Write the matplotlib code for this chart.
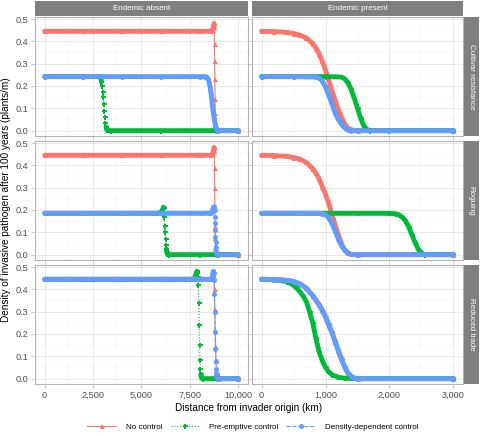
#!/usr/bin/env python3
"""
Invasive pathogen density vs distance, faceted by control strategy and endemic status.
"""
import matplotlib
matplotlib.use("Agg")
import numpy as np
import matplotlib.pyplot as plt
from matplotlib.lines import Line2D
from matplotlib.ticker import FuncFormatter, MultipleLocator

plt.rcParams["font.family"] = ["Liberation Sans", "DejaVu Sans"]

# ---------------- data ----------------
rows = ["Cultivar resistance", "Roguing", "Reduced trade"]
cols = ["Endemic absent", "Endemic present"]
series_names = ["No control", "Pre-emptive control", "Density-dependent control"]

# Cultivar resistance, endemic absent
cr_abs_nc_x = [0, 2000, 4000, 6000, 8000, 8600, 8680, 8720, 8750, 8760, 8770, 8780, 8790, 8800, 8810, 8820, 8830, 8850, 8900, 10000]
cr_abs_nc_y = [0.445, 0.445, 0.445, 0.445, 0.445, 0.445, 0.45, 0.465, 0.48, 0.47, 0.39, 0.31, 0.23, 0.14, 0.08, 0.04, 0.015, 0.003, 0, 0]
cr_abs_pe_x = [0, 2000, 2850, 2900, 2930, 2960, 2990, 3020, 3050, 3080, 3110, 3140, 3170, 3200, 3250, 3400, 6000, 10000]
cr_abs_pe_y = [0.242, 0.242, 0.242, 0.235, 0.22, 0.2, 0.175, 0.15, 0.12, 0.09, 0.06, 0.035, 0.015, 0.005, 0.001, 0, 0, 0]
cr_abs_dd_x = [0, 2000, 4000, 6000, 8000, 8300, 8400, 8450, 8500, 8550, 8600, 8650, 8700, 8750, 8800, 8850, 8900, 8950, 10000]
cr_abs_dd_y = [0.242, 0.242, 0.242, 0.242, 0.242, 0.242, 0.238, 0.23, 0.215, 0.19, 0.16, 0.12, 0.085, 0.055, 0.03, 0.012, 0.004, 0, 0]

# Cultivar resistance, endemic present
cr_pre_nc_x = [0, 200, 400, 500, 600, 700, 800, 850, 900, 950, 1000, 1050, 1100, 1150, 1200, 1250, 1300, 1350, 1400, 1500, 3000]
cr_pre_nc_y = [0.445, 0.444, 0.44, 0.435, 0.428, 0.415, 0.39, 0.37, 0.345, 0.31, 0.27, 0.225, 0.18, 0.135, 0.095, 0.06, 0.03, 0.012, 0.004, 0, 0]
cr_pre_pe_x = [0, 500, 1000, 1250, 1300, 1350, 1400, 1450, 1500, 1550, 1600, 1650, 1700, 2000, 3000]
cr_pre_pe_y = [0.242, 0.242, 0.242, 0.24, 0.232, 0.215, 0.185, 0.145, 0.1, 0.055, 0.02, 0.005, 0, 0, 0]
cr_pre_dd_x = [0, 500, 850, 900, 950, 1000, 1050, 1100, 1150, 1200, 1250, 1300, 1350, 1400, 2000, 3000]
cr_pre_dd_y = [0.242, 0.242, 0.24, 0.235, 0.222, 0.195, 0.16, 0.12, 0.08, 0.05, 0.028, 0.012, 0.004, 0, 0, 0]

# Roguing, endemic absent
ro_abs_nc_x = [0, 2000, 4000, 6000, 8000, 8600, 8680, 8720, 8750, 8760, 8770, 8780, 8790, 8800, 8810, 8820, 8830, 8850, 8900, 10000]
ro_abs_nc_y = [0.445, 0.445, 0.445, 0.445, 0.445, 0.445, 0.45, 0.465, 0.48, 0.47, 0.39, 0.3, 0.21, 0.13, 0.075, 0.035, 0.012, 0.003, 0, 0]
ro_abs_pe_x = [0, 2000, 4000, 5800, 6000, 6050, 6100, 6130, 6160, 6180, 6200, 6220, 6240, 6260, 6280, 6300, 6330, 6400, 8000, 10000]
ro_abs_pe_y = [0.185, 0.185, 0.185, 0.185, 0.188, 0.195, 0.205, 0.212, 0.21, 0.17, 0.13, 0.1, 0.07, 0.045, 0.025, 0.012, 0.004, 0, 0, 0]
ro_abs_dd_x = [0, 2000, 4000, 6000, 8000, 8500, 8600, 8650, 8700, 8730, 8750, 8770, 8790, 8800, 8810, 8820, 8830, 8840, 8860, 8880, 8900, 8950, 10000]
ro_abs_dd_y = [0.185, 0.185, 0.185, 0.185, 0.185, 0.185, 0.187, 0.195, 0.207, 0.214, 0.215, 0.2, 0.17, 0.14, 0.11, 0.08, 0.055, 0.035, 0.015, 0.006, 0.002, 0, 0]

# Roguing, endemic present
ro_pre_nc_x = [0, 200, 400, 500, 600, 700, 800, 850, 900, 950, 1000, 1050, 1100, 1150, 1200, 1250, 1300, 1350, 1400, 1500, 3000]
ro_pre_nc_y = [0.445, 0.444, 0.44, 0.435, 0.428, 0.413, 0.385, 0.365, 0.34, 0.305, 0.27, 0.23, 0.18, 0.135, 0.09, 0.05, 0.02, 0.006, 0.001, 0, 0]
ro_pre_pe_x = [0, 500, 1000, 1500, 2000, 2100, 2150, 2200, 2250, 2300, 2350, 2400, 2450, 2500, 2550, 3000]
ro_pre_pe_y = [0.185, 0.185, 0.185, 0.185, 0.185, 0.183, 0.178, 0.168, 0.152, 0.125, 0.09, 0.055, 0.025, 0.008, 0, 0]
ro_pre_dd_x = [0, 500, 900, 950, 1000, 1050, 1100, 1150, 1200, 1250, 1300, 1350, 1400, 1500, 3000]
ro_pre_dd_y = [0.185, 0.185, 0.185, 0.183, 0.178, 0.165, 0.14, 0.105, 0.07, 0.04, 0.02, 0.008, 0.002, 0, 0]

# Reduced trade, endemic absent
rt_abs_nc_x = [0, 2000, 4000, 6000, 8000, 8600, 8660, 8700, 8730, 8750, 8770, 8790, 8810, 8830, 8850, 8870, 8890, 8920, 8960, 10000]
rt_abs_nc_y = [0.445, 0.445, 0.445, 0.445, 0.445, 0.445, 0.45, 0.47, 0.48, 0.46, 0.4, 0.31, 0.22, 0.14, 0.08, 0.04, 0.015, 0.004, 0, 0]
rt_abs_pe_x = [0, 2000, 4000, 6000, 7700, 7750, 7800, 7850, 7880, 7910, 7940, 7960, 7980, 8000, 8020, 8040, 8060, 8080, 8100, 8150, 8200, 10000]
rt_abs_pe_y = [0.445, 0.445, 0.445, 0.445, 0.445, 0.45, 0.465, 0.48, 0.475, 0.455, 0.42, 0.34, 0.24, 0.15, 0.085, 0.045, 0.02, 0.008, 0.003, 0.001, 0, 0]
rt_abs_dd_x = [0, 2000, 4000, 6000, 8000, 8600, 8650, 8680, 8700, 8720, 8740, 8760, 8780, 8800, 8820, 8840, 8860, 8880, 8900, 8950, 10000]
rt_abs_dd_y = [0.445, 0.445, 0.445, 0.445, 0.445, 0.445, 0.455, 0.47, 0.48, 0.475, 0.44, 0.38, 0.3, 0.21, 0.135, 0.08, 0.045, 0.02, 0.008, 0, 0]

# Reduced trade, endemic present
rt_pre_nc_x = [0, 200, 400, 500, 600, 700, 800, 900, 950, 1000, 1050, 1100, 1150, 1200, 1250, 1300, 1350, 1400, 1450, 1500, 3000]
rt_pre_nc_y = [0.445, 0.444, 0.44, 0.435, 0.425, 0.405, 0.37, 0.33, 0.305, 0.275, 0.24, 0.205, 0.165, 0.125, 0.085, 0.05, 0.025, 0.01, 0.003, 0, 0]
rt_pre_pe_x = [0, 200, 400, 450, 500, 550, 600, 650, 700, 750, 800, 850, 900, 950, 1000, 1050, 1100, 1200, 1300, 1500, 3000]
rt_pre_pe_y = [0.445, 0.443, 0.435, 0.428, 0.418, 0.405, 0.39, 0.37, 0.345, 0.3, 0.25, 0.18, 0.12, 0.08, 0.05, 0.03, 0.018, 0.006, 0.002, 0, 0]
rt_pre_dd_x = [0, 200, 400, 500, 600, 700, 800, 900, 950, 1000, 1050, 1100, 1150, 1200, 1250, 1300, 1350, 1400, 1450, 1500, 3000]
rt_pre_dd_y = [0.445, 0.444, 0.44, 0.435, 0.425, 0.405, 0.372, 0.332, 0.308, 0.278, 0.243, 0.207, 0.167, 0.127, 0.087, 0.052, 0.026, 0.011, 0.003, 0, 0]

panels = {
    (0, 0): [(cr_abs_nc_x, cr_abs_nc_y), (cr_abs_pe_x, cr_abs_pe_y), (cr_abs_dd_x, cr_abs_dd_y)],
    (0, 1): [(cr_pre_nc_x, cr_pre_nc_y), (cr_pre_pe_x, cr_pre_pe_y), (cr_pre_dd_x, cr_pre_dd_y)],
    (1, 0): [(ro_abs_nc_x, ro_abs_nc_y), (ro_abs_pe_x, ro_abs_pe_y), (ro_abs_dd_x, ro_abs_dd_y)],
    (1, 1): [(ro_pre_nc_x, ro_pre_nc_y), (ro_pre_pe_x, ro_pre_pe_y), (ro_pre_dd_x, ro_pre_dd_y)],
    (2, 0): [(rt_abs_nc_x, rt_abs_nc_y), (rt_abs_pe_x, rt_abs_pe_y), (rt_abs_dd_x, rt_abs_dd_y)],
    (2, 1): [(rt_pre_nc_x, rt_pre_nc_y), (rt_pre_pe_x, rt_pre_pe_y), (rt_pre_dd_x, rt_pre_dd_y)],
}

x_ticks = [[0, 2500, 5000, 7500, 10000], [0, 1000, 2000, 3000]]
x_lims = [(-500, 10500), (-150, 3150)]
y_ticks = [0.0, 0.1, 0.2, 0.3, 0.4, 0.5]

# ---------------- styling ----------------
colors = ["#F8766D", "#00BA38", "#619CFF"]
styles = ["-", ":", "--"]
markers = ["^", "P", "o"]
STRIP = "#7f7f7f"
BORDER = "#b3b3b3"

W, H = 480, 436
fig = plt.figure(figsize=(W / 100, H / 100), dpi=100)

def frac(x0, y0, x1, y1):
    # pixel box (top-left origin) -> figure fraction rect
    return [x0 / W, 1 - y1 / H, (x1 - x0) / W, (y1 - y0) / H]

def band_path(ax, xs, ys):
    # break the thick band only where the curve is practically vertical on
    # screen, so those drops show as thin line + separate markers
    pts = ax.transData.transform(np.column_stack([xs, ys]))
    bx, by = [xs[0]], [ys[0]]
    for k in range(1, len(xs)):
        dx = abs(pts[k, 0] - pts[k - 1, 0])
        dy = abs(pts[k, 1] - pts[k - 1, 1])
        if dx < 0.8 and dy > 4:
            bx.append(np.nan); by.append(np.nan)
        bx.append(xs[k]); by.append(ys[k])
    return bx, by

col_px = [(35, 248), (252, 463)]
row_px = [(17, 136), (141, 260), (265, 384)]

thousands = FuncFormatter(lambda v, p: f"{int(v):,}")

for r in range(3):
    for c in range(2):
        x0, x1 = col_px[c]
        y0, y1 = row_px[r]
        ax = fig.add_axes(frac(x0, y0, x1, y1))
        ax.set_facecolor("white")
        for sp in ax.spines.values():
            sp.set_color(BORDER)
            sp.set_linewidth(0.8)
        ax.set_xlim(*x_lims[c])
        ax.set_ylim(-0.024, 0.509)
        ax.set_xticks(x_ticks[c])
        step = x_ticks[c][1] - x_ticks[c][0]
        ax.xaxis.set_minor_locator(MultipleLocator(step / 2))
        ax.set_yticks(y_ticks)
        ax.yaxis.set_minor_locator(MultipleLocator(0.05))
        ax.grid(which="major", color="#dedede", linewidth=0.5)
        ax.grid(which="minor", color="#efefef", linewidth=0.3)
        ax.set_axisbelow(True)
        ax.tick_params(which="major", length=2.7, width=0.5, color=BORDER,
                       labelsize=6.6, labelcolor="#4d4d4d", pad=2)
        ax.tick_params(which="minor", length=0)
        ax.xaxis.set_major_formatter(thousands)
        ax.yaxis.set_major_formatter(FuncFormatter(lambda v, p: f"{v:.1f}"))
        if c == 1:
            ax.tick_params(labelleft=False)
        if r < 2:
            ax.tick_params(labelbottom=False)

        for i, (xs, ys) in enumerate(panels[(r, c)]):
            bx, by = band_path(ax, xs, ys)
            # thick band standing in for the densely packed markers
            ax.plot(bx, by, color=colors[i], lw=3.5, solid_capstyle="round",
                    solid_joinstyle="round", zorder=2 + i)
            ax.plot(xs, ys, color=colors[i], ls=styles[i], lw=0.8,
                    marker=markers[i], ms=3.6, mew=0, zorder=2 + i)

# strips
for c in range(2):
    x0, x1 = col_px[c]
    sa = fig.add_axes(frac(x0, 1, x1, 16.5))
    sa.set_facecolor(STRIP)
    sa.set_xticks([]); sa.set_yticks([])
    for sp in sa.spines.values():
        sp.set_visible(False)
    sa.text(0.5, 0.5, cols[c], ha="center", va="center", color="white",
            fontsize=5.8, transform=sa.transAxes)
for r in range(3):
    y0, y1 = row_px[r]
    sa = fig.add_axes(frac(464, y0, 478.5, y1))
    sa.set_facecolor(STRIP)
    sa.set_xticks([]); sa.set_yticks([])
    for sp in sa.spines.values():
        sp.set_visible(False)
    sa.text(0.5, 0.5, rows[r], ha="center", va="center", color="white",
            fontsize=5.8, rotation=-90, transform=sa.transAxes)

# axis titles
fig.text(6 / W, 1 - 200 / H, "Density of invasive pathogen after 100 years (plants/m)",
         rotation=90, ha="center", va="center", fontsize=7.2, color="black")
fig.text((35 + 463) / 2 / W, 1 - 408 / H, "Distance from invader origin (km)",
         ha="center", va="center", fontsize=7.2, color="black")

# legend
handles = [Line2D([], [], color=colors[i], ls=styles[i], lw=0.8,
                  marker=markers[i], ms=3.6, mew=0) for i in range(3)]
fig.legend(handles, series_names, loc="center", bbox_to_anchor=(0.527, 1 - 427 / H),
           ncol=3, frameon=False, fontsize=5.8, handlelength=3.6,
           columnspacing=1.0, handletextpad=1.2)

fig.savefig("out.png", dpi=100)
